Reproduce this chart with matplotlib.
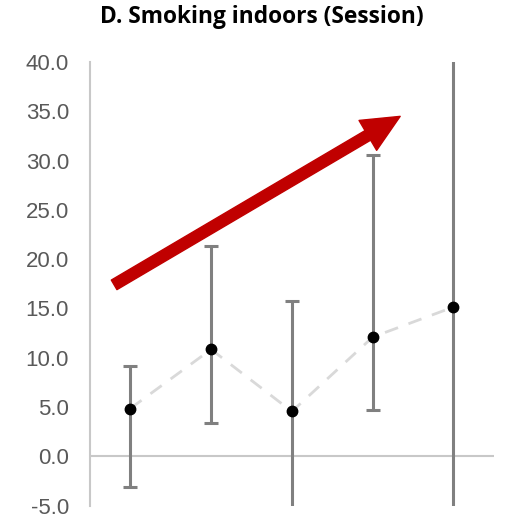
import numpy as np
import matplotlib.pyplot as plt

# session means and interval bounds
sessions = [1, 2, 3, 4, 5]
means = [4.85, 10.85, 4.55, 12.1, 15.15]
lower = [-3.1, 3.4, -8.0, 4.7, -12.0]
upper = [9.2, 21.3, 15.8, 30.6, 48.0]
y_ticks = [-5, 0, 5, 10, 15, 20, 25, 30, 35, 40]

# trend arrow, start and end in data units
arrow_start = (0.80, 17.4)
arrow_end = (4.34, 34.5)

plt.rcParams["font.family"] = ["Liberation Sans", "DejaVu Sans"]

fig = plt.figure(figsize=(5.05, 5.18), dpi=100)
ax = fig.add_axes([0.178, 0.024, 0.80, 0.856])

x = np.array(sessions)
m = np.array(means)
err = np.vstack([m - np.array(lower), np.array(upper) - m])

ax.plot(x, m, ls=(0, (5, 4)), color="#D9D9D9", lw=2, zorder=2)
ax.errorbar(x, m, yerr=err, fmt="none", ecolor="#808080", elinewidth=2.2,
            capsize=5, capthick=2.2, zorder=3)
ax.plot(x, m, "o", color="black", ms=7.5, zorder=4)

ax.axhline(0, color="#C8C8C8", lw=1.5, zorder=1)

ax.annotate("", xy=arrow_end, xytext=arrow_start,
            arrowprops=dict(arrowstyle="simple,tail_width=0.4,head_width=1.25,head_length=1.35",
                            mutation_scale=20, color="#C00000", shrinkA=0, shrinkB=0),
            zorder=5)

ax.set_xlim(0.5, 5.5)
ax.set_ylim(-5, 40)
ax.set_yticks(y_ticks)
ax.set_yticklabels([f"{v:.1f}" for v in y_ticks], fontsize=16, color="#595959")
ax.set_xticks([])
ax.tick_params(axis="y", length=0, pad=15)

for side in ["top", "right", "bottom"]:
    ax.spines[side].set_visible(False)
ax.spines["left"].set_color("#C8C8C8")
ax.spines["left"].set_linewidth(1.5)

fig.text(0.519, 0.967, "D. Smoking indoors (Session)", ha="center", va="center",
         fontsize=16.4, fontweight="bold", family=["Open Sans", "DejaVu Sans"])

fig.savefig("out.png", dpi=100)
